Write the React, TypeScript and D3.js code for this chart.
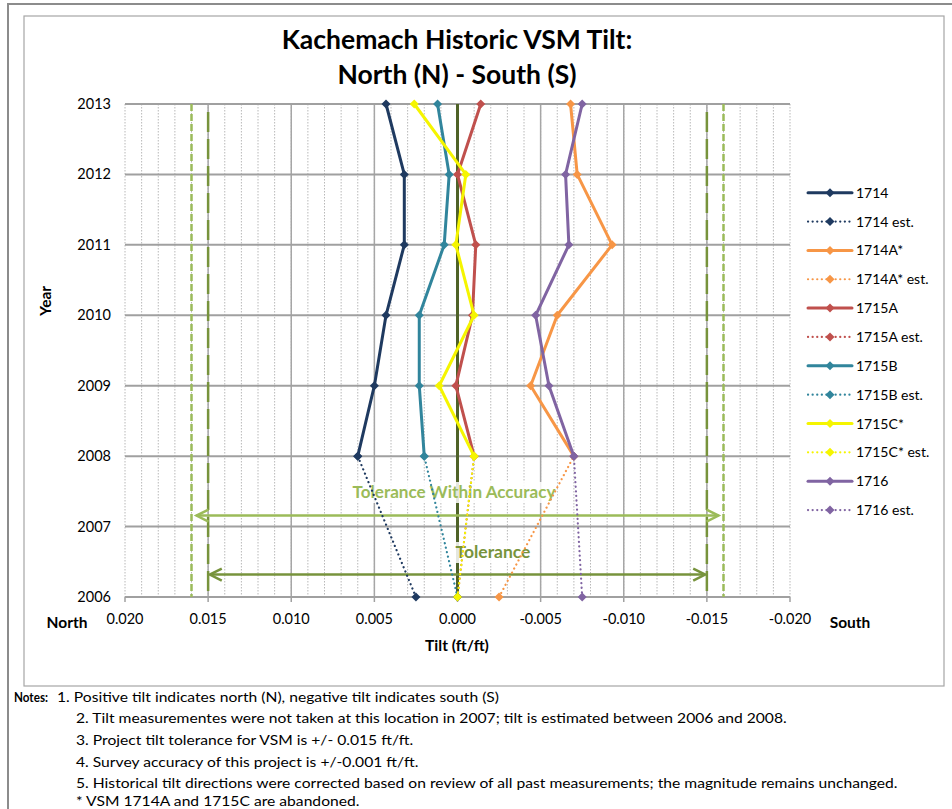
import React from "react";
import * as d3 from "d3";

const years = [2008, 2009, 2010, 2011, 2012, 2013];
const estYears = [2006, 2008];
const s1714 = [0.006, 0.005, 0.0043, 0.0032, 0.0032, 0.0043];
const s1714A = [-0.007, -0.0044, -0.006, -0.0093, -0.0072, -0.0068];
const s1715A = [-0.001, 0.0001, -0.0009, -0.0011, 0.0, -0.0014];
const s1715B = [0.002, 0.0023, 0.0023, 0.0008, 0.0005, 0.0012];
const s1715C = [-0.001, 0.0011, -0.001, 0.0001, -0.0005, 0.0026];
const s1716 = [-0.007, -0.0055, -0.0047, -0.0067, -0.0065, -0.0075];
const e1714 = [0.0025, 0.006];
const e1714A = [-0.0025, -0.007];
const e1715A = [0.0, -0.001];
const e1715B = [0.0, 0.002];
const e1715C = [0.0, -0.001];
const e1716 = [-0.0075, -0.007];

const xTicks = [0.02, 0.015, 0.01, 0.005, 0, -0.005, -0.01, -0.015, -0.02];
const yTicks = [2006, 2007, 2008, 2009, 2010, 2011, 2012, 2013];
const tolerance = 0.015;
const toleranceAcc = 0.016;

const notes = [
  "1. Positive tilt indicates north (N), negative tilt indicates south (S)",
  "2. Tilt measurementes were not taken at this location in 2007; tilt is estimated between 2006 and 2008.",
  "3. Project tilt tolerance for VSM is +/- 0.015 ft/ft.",
  "4. Survey accuracy of this project is +/-0.001 ft/ft.",
  "5. Historical tilt directions were corrected based on review of all past measurements; the magnitude remains unchanged.",
  "* VSM 1714A and 1715C are abandoned.",
];

const series = [
  { name: "1714", vals: s1714, yrs: years, color: "#1F3A60", est: false },
  { name: "1714 est.", vals: e1714, yrs: estYears, color: "#1F3A60", est: true },
  { name: "1714A*", vals: s1714A, yrs: years, color: "#F79646", est: false },
  { name: "1714A* est.", vals: e1714A, yrs: estYears, color: "#F79646", est: true },
  { name: "1715A", vals: s1715A, yrs: years, color: "#C0504D", est: false },
  { name: "1715A est.", vals: e1715A, yrs: estYears, color: "#C0504D", est: true },
  { name: "1715B", vals: s1715B, yrs: years, color: "#31859C", est: false },
  { name: "1715B est.", vals: e1715B, yrs: estYears, color: "#31859C", est: true },
  { name: "1715C*", vals: s1715C, yrs: years, color: "#F5F500", est: false },
  { name: "1715C* est.", vals: e1715C, yrs: estYears, color: "#F5F500", est: true },
  { name: "1716", vals: s1716, yrs: years, color: "#8064A2", est: false },
  { name: "1716 est.", vals: e1716, yrs: estYears, color: "#8064A2", est: true },
];

const FONT = "Lato, 'Open Sans', sans-serif";

function Diamond({ cx, cy, color, r = 4.5 }: { cx: number; cy: number; color: string; r?: number }) {
  return <path d={`M${cx},${cy - r}L${cx + r},${cy}L${cx},${cy + r}L${cx - r},${cy}Z`} fill={color} />;
}

export default function App() {
  const W = 952, H = 809;
  const x = d3.scaleLinear().domain([0.02, -0.02]).range([125, 790]);
  const y = d3.scaleLinear().domain([2006, 2013]).range([597, 104]);
  const minor = d3.range(-20, 21).map((i) => i / 1000);
  const line = d3.line<[number, number]>().x((d) => x(d[0])).y((d) => y(d[1]));
  const green = "#77933C";
  const lightGreen = "#9BBB59";
  const k = 1.16;
  const arrow = (yy: number, v: number, color: string) => {
    const xl = x(v), xr = x(-v);
    return (
      <g stroke={color} strokeWidth={2.5} fill="none">
        <line x1={xl} x2={xr} y1={yy} y2={yy} />
        <path d={`M${xl + 12},${yy - 6}L${xl},${yy}L${xl + 12},${yy + 6}`} />
        <path d={`M${xr - 12},${yy - 6}L${xr},${yy}L${xr - 12},${yy + 6}`} />
      </g>
    );
  };
  return (
    <svg width={W} height={H} style={{ display: "block", position: "absolute", left: 0, top: 0 }} fontFamily={FONT}>
      <rect x={0} y={0} width={W} height={H} fill="white" />
      <path d={`M8,${H}L8,4L${W},4`} stroke="#8C8C8C" strokeWidth={2} fill="none" />
      <rect x={24} y={16} width={920} height={670} fill="white" stroke="#A6A6A6" strokeWidth={1.2} />
      <text x={457} y={49} textAnchor="middle" fontSize={26.5} fontWeight="bold">Kachemach Historic VSM Tilt:</text>
      <text x={457} y={84} textAnchor="middle" fontSize={26.5} fontWeight="bold">North (N) - South (S)</text>
      {minor.map((m, i) => (
        <line key={"m" + i} x1={x(m)} x2={x(m)} y1={y(2013)} y2={y(2006)} stroke="#B8B8B8" strokeWidth={1} strokeDasharray="1.5,1.5" />
      ))}
      {xTicks.filter((t) => Math.abs(t) > 0 && Math.abs(t) < 0.02).map((t, i) => (
        <line key={"v" + i} x1={x(t)} x2={x(t)} y1={y(2013)} y2={y(2006)} stroke="#A6A6A6" strokeWidth={1.5} />
      ))}
      {yTicks.map((t) => (
        <line key={"h" + t} x1={x(0.02)} x2={x(-0.02)} y1={y(t)} y2={y(t)} stroke="#A0A0A0" strokeWidth={2} />
      ))}
      {xTicks.map((t, i) => (
        <line key={"t" + i} x1={x(t)} x2={x(t)} y1={y(2006)} y2={y(2006) + 5} stroke="#A0A0A0" strokeWidth={1.5} />
      ))}
      {[toleranceAcc, -toleranceAcc].map((v, i) => (
        <line key={"ta" + i} x1={x(v)} x2={x(v)} y1={y(2013)} y2={y(2006)} stroke={lightGreen} strokeWidth={2.5} strokeDasharray="7,3" />
      ))}
      {[tolerance, -tolerance].map((v, i) => (
        <line key={"t" + i} x1={x(v)} x2={x(v)} y1={y(2013) + 8} y2={y(2006)} stroke={green} strokeWidth={2.5} strokeDasharray="20,7" />
      ))}
      <line x1={x(0)} x2={x(0)} y1={y(2013)} y2={y(2006)} stroke="#4F6228" strokeWidth={3} />
      <rect x={351} y={482} width={206} height={21} fill="white" opacity={0.85} />
      <rect x={454} y={542} width={80} height={21} fill="white" opacity={0.85} />
      {arrow(y(2007) - 11, 0.0157, lightGreen)}
      {arrow(y(2007) + 48, 0.0149, green)}
      <text x={454} y={498} textAnchor="middle" fontSize={17} fontWeight="bold" fill={lightGreen} textLength={203} lengthAdjust="spacingAndGlyphs">Tolerance Within Accuracy</text>
      <text x={493} y={558} textAnchor="middle" fontSize={17.5} fontWeight="bold" fill={green}>Tolerance</text>
      {series.map((s) => {
        const pts: [number, number][] = s.vals.map((v, i) => [v, s.yrs[i]]);
        return (
          <g key={s.name}>
            <path d={line(pts) || ""} fill="none" stroke={s.color} strokeWidth={s.est ? 2.2 : 3}
              strokeDasharray={s.est ? "0.1,4.5" : undefined} strokeLinecap="round" strokeLinejoin="round" />
            {pts.map((p, i) => <Diamond key={i} cx={x(p[0])} cy={y(p[1])} color={s.color} />)}
          </g>
        );
      })}
      {yTicks.map((t) => (
        <text key={"yl" + t} x={111} y={y(t) + 5} textAnchor="end" fontSize={14.5}>{t}</text>
      ))}
      {xTicks.map((t, i) => (
        <text key={"xl" + i} x={x(t)} y={624} textAnchor="middle" fontSize={14.5}>{d3.format(".3f")(t).replace("−", "-")}</text>
      ))}
      <text x={67} y={628} textAnchor="middle" fontSize={15.5} fontWeight="bold">North</text>
      <text x={850} y={628} textAnchor="middle" fontSize={15.5} fontWeight="bold">South</text>
      <text x={457} y={651} textAnchor="middle" fontSize={15.5} fontWeight="bold">Tilt (ft/ft)</text>
      <text transform="translate(51,301) rotate(-90)" textAnchor="middle" fontSize={15.5} fontWeight="bold">Year</text>
      {series.map((s, i) => {
        const ly = 192.7 + i * 28.85;
        return (
          <g key={"lg" + s.name}>
            <line x1={808} x2={852} y1={ly} y2={ly} stroke={s.color} strokeWidth={s.est ? 2.2 : 3}
              strokeDasharray={s.est ? "0.1,4.5" : undefined} strokeLinecap="round" />
            <Diamond cx={830} cy={ly} color={s.color} />
            <text x={856} y={ly + 5} fontSize={14}>{s.name}</text>
          </g>
        );
      })}
      <text x={14} y={702} fontWeight="bold" fontSize={12.5} textLength={34} lengthAdjust="spacingAndGlyphs">Notes:</text>
      <g transform={`translate(76,0) scale(${k},1)`} fontSize={13.5}>
        {notes.map((n, i) => (
          <text key={"n" + i} x={i === 0 ? (57 - 76) / k : 0} y={702 + [0, 21.5, 43, 65, 86.5, 104][i]}>{n}</text>
        ))}
      </g>
    </svg>
  );
}
